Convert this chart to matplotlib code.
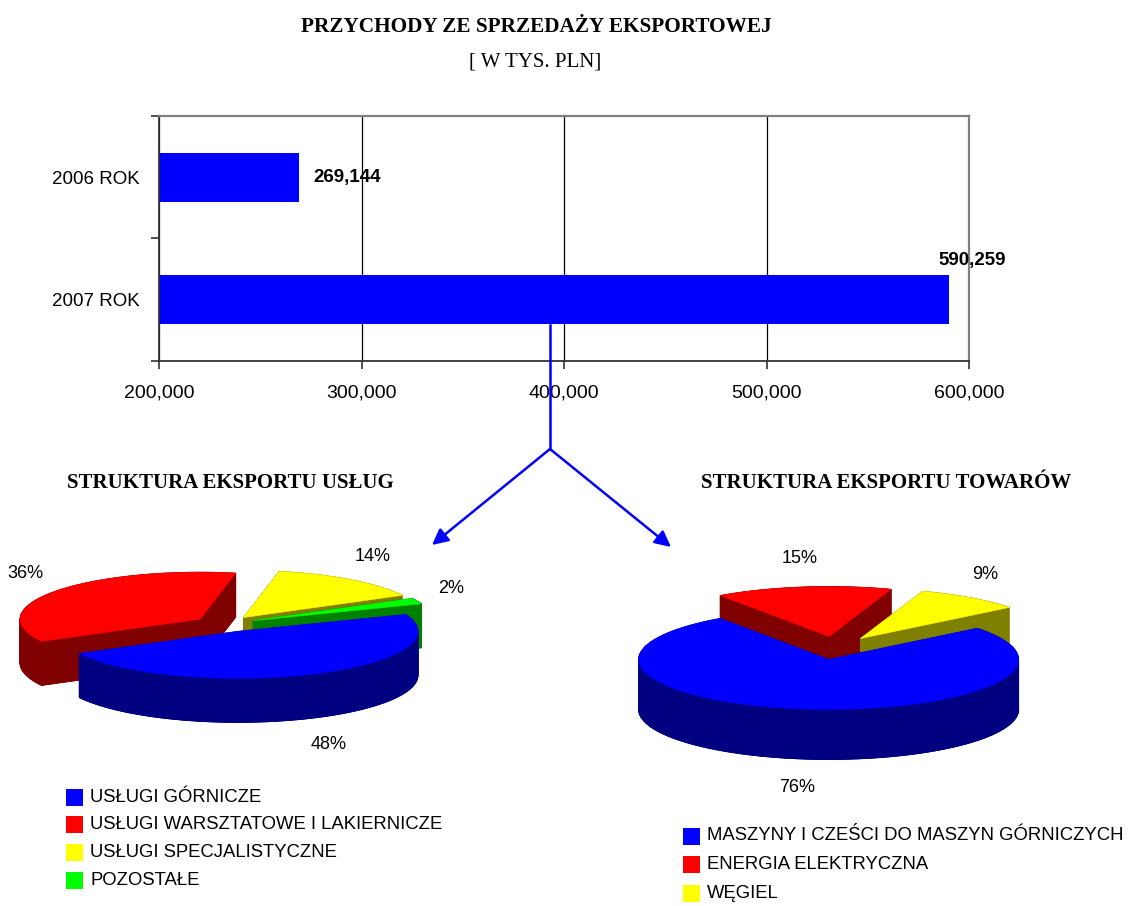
import numpy as np
import matplotlib
matplotlib.use('Agg')
import matplotlib.pyplot as plt
from matplotlib.patches import Polygon, Rectangle

# dane
years = ['2006 ROK', '2007 ROK']
revenue = [269144, 590259]
xticks = [200000, 300000, 400000, 500000, 600000]

uslugi_labels = ['USŁUGI GÓRNICZE', 'USŁUGI WARSZTATOWE I LAKIERNICZE',
                 'USŁUGI SPECJALISTYCZNE', 'POZOSTAŁE']
uslugi_share = [48, 36, 14, 2]
towary_labels = ['MASZYNY I CZEŚCI DO MASZYN GÓRNICZYCH', 'ENERGIA ELEKTRYCZNA', 'WĘGIEL']
towary_share = [76, 15, 9]

top_cols = ['#0000FF', '#FF0000', '#FFFF00', '#00FF00']
side_cols = ['#000080', '#800000', '#808000', '#008000']

plt.rcParams['font.family'] = ['Liberation Sans', 'DejaVu Sans']
serif = ['Liberation Serif', 'DejaVu Serif']

W, H = 1129, 906
fig = plt.figure(figsize=(W / 100, H / 100), dpi=100)

# --- wykres słupkowy ---
ax = fig.add_axes([159 / W, 1 - 361 / H, 810 / W, 245 / H])
y = np.arange(len(years))
ax.barh(y, revenue, height=0.4, color='#0000FF', zorder=2)
ax.set_xlim(xticks[0], xticks[-1])
ax.set_ylim(len(years) - 0.5, -0.5)
ax.set_xticks(xticks)
ax.set_xticklabels([f"{v:,}" for v in xticks], fontsize=14)
ax.set_yticks(np.arange(len(years) + 1) - 0.5)
ax.set_yticklabels([])
ax.set_yticks(y, minor=True)
ax.set_yticklabels(years, minor=True, fontsize=13.5)
ax.tick_params(axis='y', which='minor', length=0, pad=13.5)
ax.tick_params(axis='y', which='major', length=6, width=1.2, color='#333333')
ax.tick_params(axis='x', length=6, width=1.2, color='#333333', pad=11)
ax.grid(axis='x', color='black', lw=0.9)
ax.set_axisbelow(True)
for s in ['top', 'right']:
    ax.spines[s].set_color('#808080')
    ax.spines[s].set_linewidth(1.6)
for s in ['left', 'bottom']:
    ax.spines[s].set_color('#333333')
    ax.spines[s].set_linewidth(1.3)

xspan = xticks[-1] - xticks[0]
for i, v in enumerate(revenue):
    if v > xticks[-1] - 0.05 * xspan:
        ax.text(v + 0.028 * xspan, i - 0.25, f"{v:,}", ha='center', va='bottom',
                fontsize=13.5, fontweight='bold')
    else:
        ax.text(v + 0.018 * xspan, i, f"{v:,}", ha='left', va='center',
                fontsize=13.5, fontweight='bold')

# --- warstwa z pikselowymi współrzędnymi ---
ov = fig.add_axes([0, 0, 1, 1])
ov.set_xlim(0, W)
ov.set_ylim(H, 0)
ov.axis('off')
ov.patch.set_alpha(0)

ov.text(536, 27, 'PRZYCHODY ZE SPRZEDAŻY EKSPORTOWEJ', ha='center', va='center',
        fontsize=15.3, fontweight='bold', family=serif)
ov.text(535, 62, '[ W TYS. PLN]', ha='center', va='center', fontsize=15, family=serif)
ov.text(230, 483, 'STRUKTURA EKSPORTU USŁUG', ha='center', va='center',
        fontsize=15, fontweight='bold', family=serif)
ov.text(886, 483, 'STRUKTURA EKSPORTU TOWARÓW', ha='center', va='center',
        fontsize=15, fontweight='bold', family=serif)

# strzałki
blue = '#0000FF'
ov.plot([550, 550], [325, 449], color=blue, lw=1.8)
for tx, ty in [(432, 545), (671, 547)]:
    ov.annotate('', xy=(tx, ty), xytext=(550, 449),
                arrowprops=dict(arrowstyle='-|>', color=blue, lw=1.8,
                                mutation_scale=24, shrinkA=0, shrinkB=0))


def pie3d(values, cx, cy, rx, ry, depth, expl, start, lab_fx, lab_fy):
    total = float(sum(values))
    k = ry / rx
    a = start
    parts = []
    for i, v in enumerate(values):
        span = v / total * 360
        a1, a2 = a, a - span
        mid = np.radians((a1 + a2) / 2)
        px = cx + expl * np.cos(mid)
        py = cy - expl * k * np.sin(mid)
        th = np.radians(np.linspace(a2, a1, 120))
        pts = np.column_stack([px + rx * np.cos(th), py - ry * np.sin(th)])
        pts = np.vstack([[px, py], pts])
        parts.append((np.sin(mid), i, mid, pts))
        a = a2
    parts.sort(key=lambda p: -p[0])
    for s, i, mid, pts in parts:
        low = pts + [0, depth]
        side = side_cols[i]
        ov.add_patch(Polygon(low, closed=True, fc=side, ec=side, lw=0.6))
        n = len(pts)
        for j in range(n):
            p0, p1 = pts[j], pts[(j + 1) % n]
            quad = [p0, p1, p1 + [0, depth], p0 + [0, depth]]
            ov.add_patch(Polygon(quad, closed=True, fc=side, ec=side, lw=0.6))
        ov.add_patch(Polygon(pts, closed=True, fc=top_cols[i], ec=top_cols[i], lw=0.4))
    for s, i, mid, pts in parts:
        lx = cx + lab_fx * rx * np.cos(mid)
        ly = cy - lab_fy * ry * np.sin(mid) + (depth if s < 0 else 0)
        ov.text(lx, ly, f"{round(values[i] / total * 100)}%", ha='center', va='center',
                fontsize=13)


pie3d(uslugi_share, 225, 624, 180, 47, 44, 31, 21, 1.38, 1.8)
pie3d(towary_share, 835, 648, 190, 50, 50, 44, 38.5, 1.37, 1.8)


def legend(labels, x0, y0, dy):
    for i, lab in enumerate(labels):
        yc = y0 + i * dy
        ov.add_patch(Rectangle((x0, yc - 8.5), 17, 17, fc=top_cols[i], ec='none'))
        ov.text(x0 + 24, yc, lab, ha='left', va='center', fontsize=13.3)


legend(uslugi_labels, 66, 797, 27.7)
legend(towary_labels, 683, 836, 28.5)

fig.savefig('out.png', dpi=100)
